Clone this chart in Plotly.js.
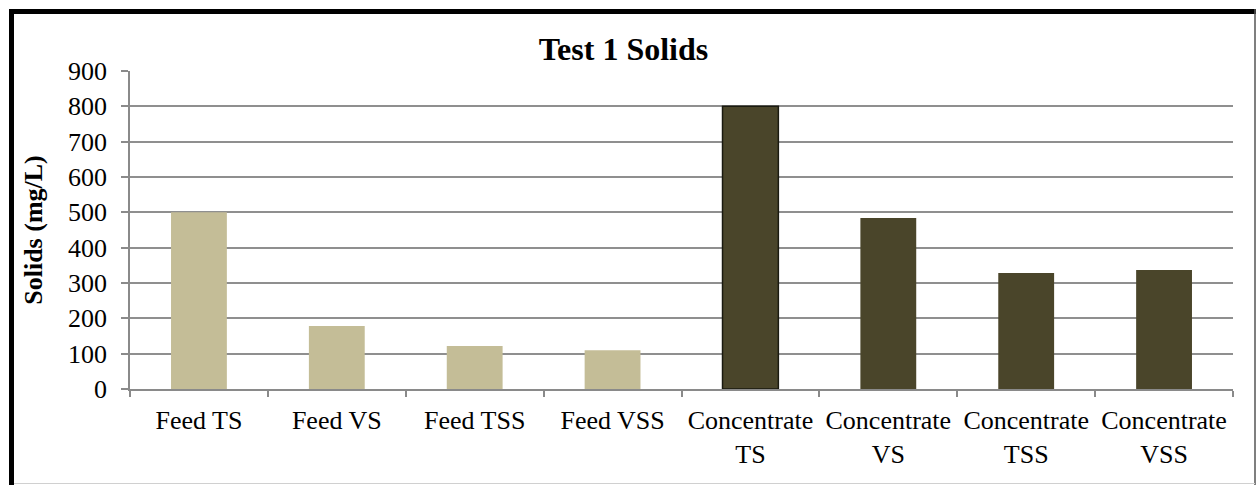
<!DOCTYPE html>
<html>
<head>
<meta charset="utf-8">
<script src="https://cdn.plot.ly/plotly-3.0.1.min.js"></script>
<style>
  html, body { margin: 0; padding: 0; background: #ffffff; }
  #chart { width: 1257px; height: 485px; }
</style>
</head>
<body>
<div id="chart"></div>
<script>
// ---- Data ----
const categories = [
  "Feed TS", "Feed VS", "Feed TSS", "Feed VSS",
  "Concentrate<br>TS", "Concentrate<br>VS", "Concentrate<br>TSS", "Concentrate<br>VSS"
];
const groups = ["Feed", "Feed", "Feed", "Feed", "Concentrate", "Concentrate", "Concentrate", "Concentrate"];
const solidsValues = [500, 178, 122, 110, 800, 484, 328, 337];
const yTickValues = [0, 100, 200, 300, 400, 500, 600, 700, 800, 900];

// ---- Styles ----
const groupColor = { "Feed": "#C4BD97", "Concentrate": "#4A452A" };
const barColors = groups.map(g => groupColor[g]);
const outlineColors = categories.map((c, i) => i === 4 ? "#1a1a10" : "rgba(0,0,0,0)");
const outlineWidths = categories.map((c, i) => i === 4 ? 1.5 : 0);

const serif = '"Liberation Serif", "Times New Roman", Times, serif';

const trace = {
  type: "bar",
  x: categories,
  y: solidsValues,
  width: 0.405,
  marker: {
    color: barColors,
    line: { color: outlineColors, width: outlineWidths }
  },
  hoverinfo: "x+y"
};

// frame helpers (pixel -> paper)
const L = 130, R = 1233, T = 71, B = 389;
const px = p => (p - L) / (R - L);
const py = p => (B - p) / (B - T);

const layout = {
  width: 1257,
  height: 485,
  margin: { l: L, r: 1257 - R, t: T, b: 485 - B },
  paper_bgcolor: "#ffffff",
  plot_bgcolor: "#ffffff",
  showlegend: false,
  font: { family: serif, size: 26, color: "#000000" },
  title: {
    text: "<b>Test 1 Solids</b>",
    font: { family: serif, size: 32, color: "#000000" },
    x: 0.496, xref: "container", xanchor: "center",
    y: 1 - 49 / 485, yref: "container", yanchor: "middle"
  },
  xaxis: {
    type: "category",
    tickson: "boundaries",
    ticks: "outside",
    ticklen: 6,
    tickwidth: 1.5,
    tickcolor: "#8a8a8a",
    showline: true,
    linecolor: "#8a8a8a",
    linewidth: 2,
    showgrid: false,
    tickfont: { family: serif, size: 26, color: "#000000" },
    ticklabelstandoff: 7,
    fixedrange: true
  },
  yaxis: {
    range: [0, 900],
    tickvals: yTickValues,
    ticktext: yTickValues.map(String),
    ticks: "outside",
    ticklen: 7,
    tickwidth: 1.5,
    tickcolor: "#8a8a8a",
    showline: true,
    linecolor: "#8a8a8a",
    linewidth: 1.5,
    showgrid: true,
    gridcolor: "#8f8f8f",
    gridwidth: 2,
    zeroline: false,
    tickfont: { family: serif, size: 26, color: "#000000" },
    ticklabelstandoff: 9,
    title: {
      text: "<b>Solids (mg/L)</b>",
      font: { family: serif, size: 26, color: "#000000" },
      standoff: 18
    },
    fixedrange: true
  },
  shapes: [
    { type: "line", xref: "paper", yref: "paper", x0: px(9), x1: px(1256), y0: py(11.5), y1: py(11.5),
      line: { color: "#000000", width: 5 } },
    { type: "line", xref: "paper", yref: "paper", x0: px(11.5), x1: px(11.5), y0: py(9), y1: py(485),
      line: { color: "#000000", width: 5 } },
    { type: "line", xref: "paper", yref: "paper", x0: px(1255), x1: px(1255), y0: py(9), y1: py(485),
      line: { color: "#555555", width: 1.5 } },
    { type: "line", xref: "paper", yref: "paper", x0: px(14), x1: px(1255), y0: py(483.5), y1: py(483.5),
      line: { color: "#d0d0d0", width: 1 } }
  ]
};

Plotly.newPlot("chart", [trace], layout, { displayModeBar: false });
</script>
</body>
</html>
